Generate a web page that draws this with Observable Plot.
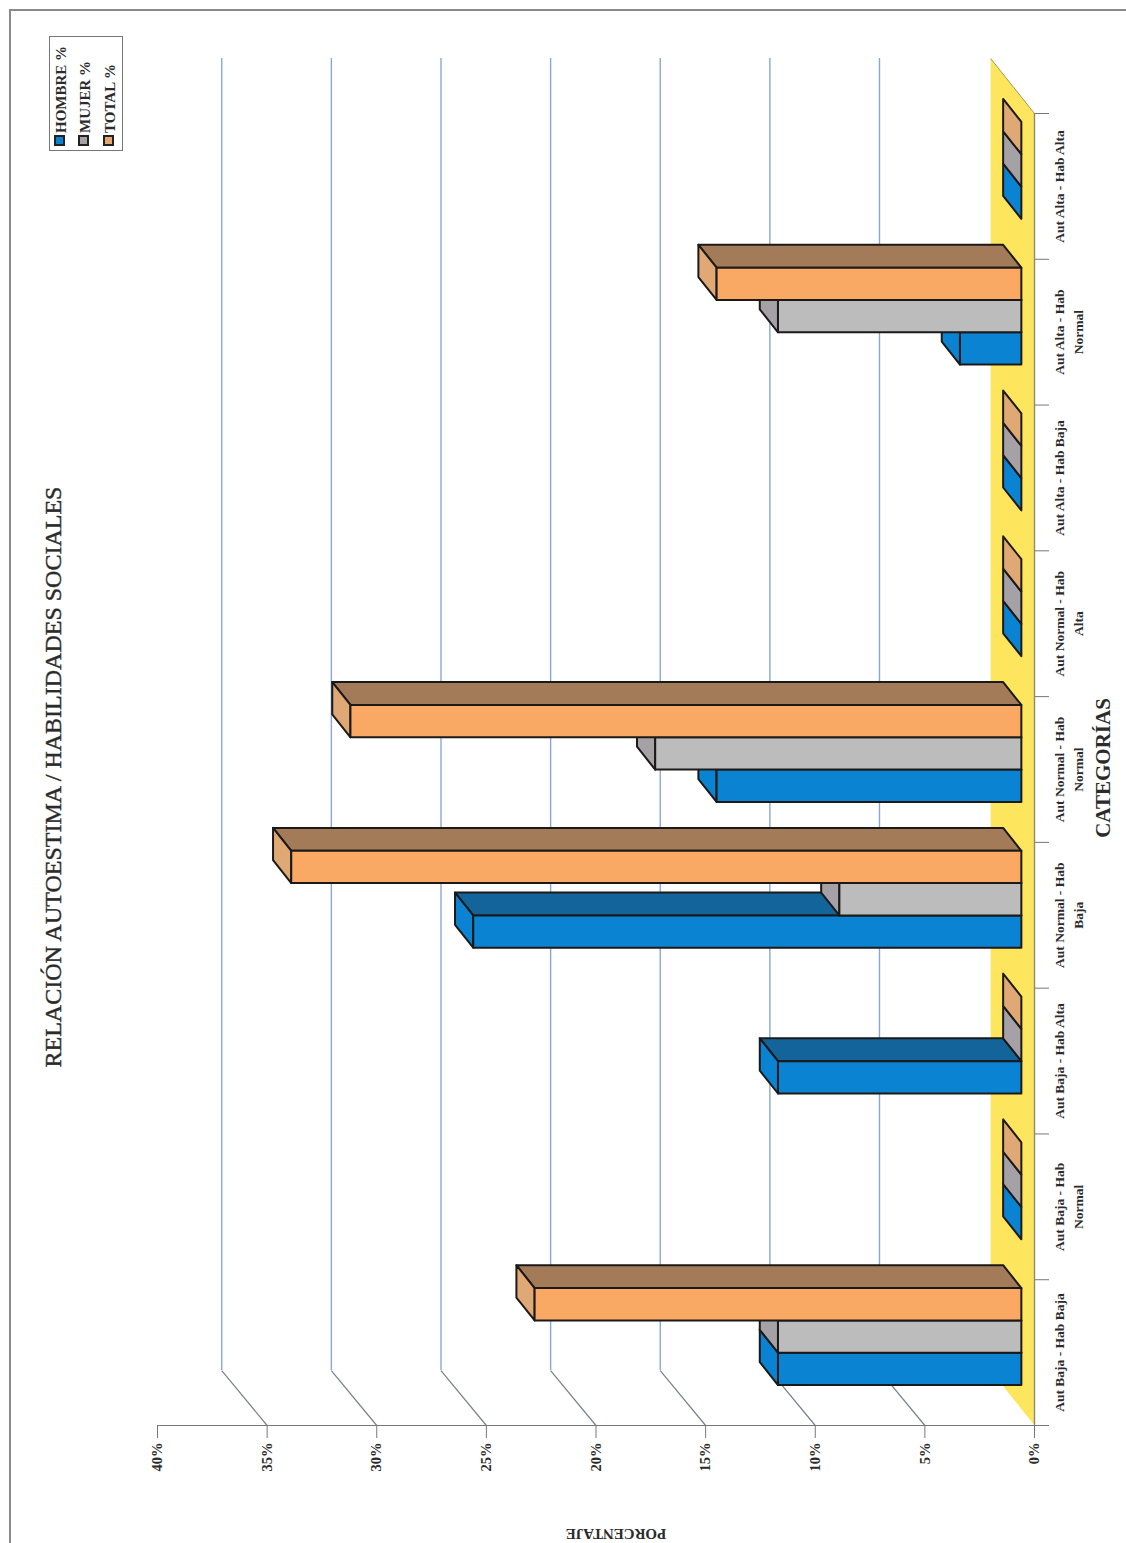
<!DOCTYPE html>
<html>
<head>
<meta charset="utf-8">
<script src="https://cdn.jsdelivr.net/npm/d3@7"></script>
<script src="https://cdn.jsdelivr.net/npm/@observablehq/plot@0.6"></script>
<style>
  html, body { margin: 0; padding: 0; background: #fff; }
  #page { position: relative; width: 1126px; height: 1543px; overflow: hidden; font-family: "Liberation Serif", serif; color: #2b2b2b; }
  #sheet { position: absolute; left: 9px; top: 9px; right: -5px; bottom: -5px; border-top: 2px solid #8a8a8a; border-left: 2px solid #8a8a8a; }
  #chart { position: absolute; left: 0; top: 0; }
  .turned { position: absolute; white-space: nowrap; font-weight: bold; transform: translate(-50%, -50%) rotate(-90deg); }
  #legend { position: absolute; left: 49px; top: 36px; width: 72px; height: 113px; border: 1.5px solid #777; }
  .swatch { position: absolute; width: 7px; height: 7px; border: 2px solid #222; }
  .entry { position: absolute; top: 96px; line-height: 15px; font-size: 15px; font-weight: bold; white-space: nowrap; transform-origin: 0 0; transform: rotate(-90deg); }
  text.category-label { word-spacing: 2.5px; }
</style>
</head>
<body>
<div id="page">
  <div id="sheet"></div>
  <div id="chart"></div>
  <div class="turned" style="left:53px;top:777px;font-size:24px;font-weight:normal;-webkit-text-stroke:0.4px #2b2b2b;">RELACIÓN AUTOESTIMA / HABILIDADES SOCIALES</div>
  <div class="turned" style="left:1103px;top:768px;font-size:21px;">CATEGORÍAS</div>
  <div style="position:absolute;left:616px;top:1533px;font-size:15px;font-weight:bold;white-space:nowrap;transform:translate(-50%,-50%) rotate(180deg);">PORCENTAJE</div>
  <div id="legend"></div>
</div>
<script>
// Categories and percentages for each group
const categories = [
  "Aut Baja - Hab Baja", "Aut Baja - Hab\nNormal", "Aut Baja - Hab Alta",
  "Aut Normal - Hab\nBaja", "Aut Normal - Hab\nNormal", "Aut Normal - Hab\nAlta",
  "Aut Alta - Hab Baja", "Aut Alta - Hab\nNormal", "Aut Alta - Hab Alta"
];
const hombre = [11.1, 0, 11.1, 25.0, 13.9, 0, 0, 2.8, 0];
const mujer  = [11.1, 0, 0, 8.3, 16.7, 0, 0, 11.1, 0];
const total  = [22.2, 0, 0, 33.3, 30.6, 0, 0, 13.9, 0];

const seriesNames = ["HOMBRE %", "MUJER %", "TOTAL %"];
const seriesValues = [hombre, mujer, total];
const frontColors = ["#0b83d3", "#bcbcbc", "#f9a964"];
const topColors   = ["#14649c", "#8f8a86", "#a37b58"];
const capColors   = ["#0b83d3", "#a6a1a6", "#e0a874"];

const percentTicks = [0, 5, 10, 15, 20, 25, 30, 35, 40];
const gridTicks = [5, 10, 15, 20, 25, 30, 35];
const categoryTicks = d3.range(categories.length + 1);

// Oblique projection of the floor and the bars, in axis units
const floorDepth = {x: 2.0, y: 0.377};
const wallDepth  = 2.07;
const barInset   = {x: 0.6, y: 0.11};
const barDepth   = {x: 0.83, y: 0.157};
const barThick   = 0.2217;
const groupStart = (1 - barThick * 3) / 2;

// One closed outline per visible face; later rows paint over earlier ones
const faces = [];
function face(id, fill, corners) {
  for (const [x, y] of corners) faces.push({id, fill, x, y});
}
seriesValues.forEach((values, s) => {
  values.forEach((v, i) => {
    const x0 = barInset.x, x1 = barInset.x + v;
    const y0 = i + barInset.y + groupStart + s * barThick, y1 = y0 + barThick;
    const bx = barDepth.x, by = barDepth.y;
    if (v > 0) face(`t${s}-${i}`, topColors[s], [[x0, y1], [x1, y1], [x1 + bx, y1 + by], [x0 + bx, y1 + by]]);
    face(`c${s}-${i}`, capColors[s], [[x1, y0], [x1, y1], [x1 + bx, y1 + by], [x1 + bx, y0 + by]]);
    if (v > 0) face(`f${s}-${i}`, frontColors[s], [[x0, y0], [x1, y0], [x1, y1], [x0, y1]]);
  });
});

const n = categories.length;
const floor = [
  {x: 0, y: 0}, {x: 0, y: n},
  {x: floorDepth.x, y: n + floorDepth.y}, {x: floorDepth.x, y: floorDepth.y}
];

const chart = Plot.plot({
  width: 1126,
  height: 1543,
  marginTop: 113,
  marginBottom: 118,
  marginLeft: 157,
  marginRight: 92,
  style: {background: "transparent", fontFamily: "Liberation Serif, serif", color: "#2b2b2b"},
  x: {domain: [0, 40], reverse: true},
  y: {domain: [0, n]},
  color: {type: "identity"},
  marks: [
    // yellow floor
    Plot.line(floor, {x: "x", y: "y", curve: "linear-closed", fill: "#fde65e", stroke: null}),
    Plot.link([{}], {x1: 0, y1: n, x2: floorDepth.x, y2: n + floorDepth.y, stroke: "#9c9a5c", strokeWidth: 1}),
    // back wall lines and their slanted feet
    Plot.ruleX(gridTicks.map(v => v + wallDepth), {y1: floorDepth.y, y2: n + floorDepth.y, stroke: "#8aa6d6", strokeWidth: 1.4}),
    Plot.link(gridTicks, {x1: d => d, y1: 0, x2: d => d + wallDepth, y2: floorDepth.y, stroke: "#77808c", strokeWidth: 1.2}),
    // axes
    Plot.ruleY([0], {x1: 40, x2: -0.64, stroke: "#777", strokeWidth: 1.2}),
    Plot.ruleX([0], {y1: 0, y2: n, stroke: "#8d8a70", strokeWidth: 1.4}),
    Plot.axisX({
      ticks: percentTicks, tickFormat: d => `${d}%`, tickSize: 13, tickPadding: 4,
      tickRotate: -90, fontSize: 14.5, fontWeight: "bold", stroke: "#777", label: null
    }),
    Plot.axisY({
      anchor: "right", ticks: categoryTicks, tickFormat: () => "", tickSize: 14,
      stroke: "#777", label: null
    }),
    Plot.text(categories, {
      x: 0, y: (d, i) => i + 0.5, text: d => d, rotate: -90, dx: 16,
      lineAnchor: "top", textAnchor: "middle", lineHeight: 1.4,
      fontSize: 13.5, fontWeight: "bold", fill: "#2b2b2b",
      className: "category-label"
    }),
    // bars
    Plot.line(faces, {
      x: "x", y: "y", z: "id", curve: "linear-closed", fill: "fill",
      stroke: "#1c1a18", strokeWidth: 2, strokeLinejoin: "round"
    })
  ]
});
document.getElementById("chart").appendChild(chart);

// Legend: swatches and turned labels inside the box
const legend = document.getElementById("legend");
const rowX = [11, 35, 60];
seriesNames.forEach((name, s) => {
  const sw = document.createElement("div");
  sw.className = "swatch";
  sw.style.left = `${rowX[s] - 7}px`;
  sw.style.top = "98px";
  sw.style.background = s === 0 ? frontColors[0] : capColors[s];
  legend.appendChild(sw);
  const t = document.createElement("div");
  t.className = "entry";
  t.textContent = name;
  t.style.left = `${rowX[s] - 7.5}px`;
  legend.appendChild(t);
});
</script>
</body>
</html>
